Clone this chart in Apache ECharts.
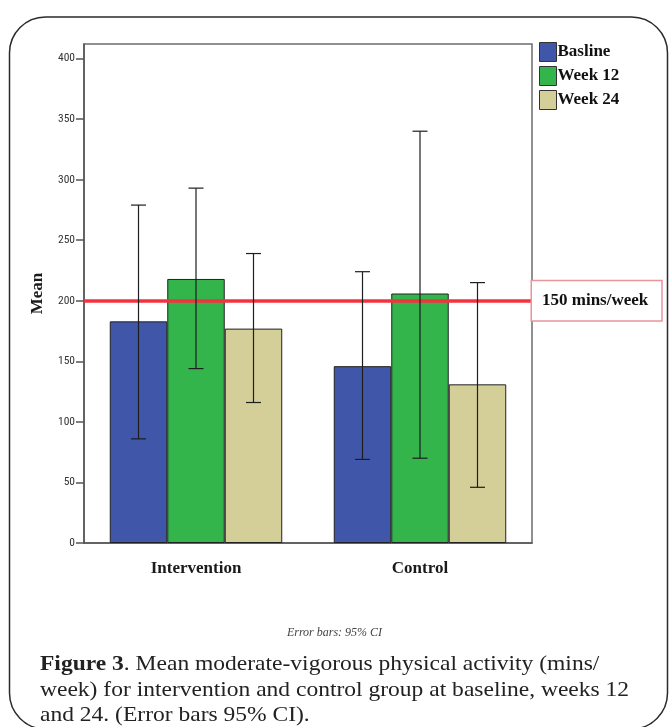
<!DOCTYPE html>
<html>
<head>
<meta charset="utf-8">
<script src="https://cdn.jsdelivr.net/npm/echarts@6/dist/echarts.min.js"></script>
<style>
  html, body { margin: 0; padding: 0; background: #fff; }
  #chart { width: 669px; height: 727px; }
</style>
</head>
<body>
<div id="chart"></div>
<script>
const categories = ['Intervention', 'Control'];
const seriesNames = ['Basline', 'Week 12', 'Week 24'];
const baseline = [183, 146];
const week12 = [218, 206];
const week24 = [177, 131];
// 95% CI [low, high] per category
const baselineCI = [[86, 279], [69, 224]];
const week12CI = [[144, 293], [70, 340]];
const week24CI = [[116, 239], [46, 215]];
const yTicks = [0, 50, 100, 150, 200, 250, 300, 350, 400];
const targetValue = 200;
const targetLabel = '150 mins/week';

const colors = ['#3f56a9', '#33b54b', '#d4cf99'];
const serif = '"Liberation Serif", "DejaVu Serif", serif';
const narrow = '"Liberation Sans Narrow", "Roboto Condensed", "Liberation Sans", sans-serif';
const catGap = 0.23;

const chart = echarts.init(document.getElementById('chart'));

function errorSeries(idx, ci) {
  return {
    type: 'custom',
    name: seriesNames[idx] + ' CI',
    silent: true,
    z: 5,
    data: ci.map((d, i) => [i, d[0], d[1]]),
    encode: { x: 0, y: [1, 2] },
    renderItem: function (params, api) {
      const band = api.size([1, 0])[0];
      const bw = band * (1 - catGap) / 3;
      const lo = api.coord([api.value(0), api.value(1)]);
      const hi = api.coord([api.value(0), api.value(2)]);
      const x = lo[0] + (idx - 1) * bw;
      const cap = 7.5;
      const style = { stroke: '#1e1e1e', lineWidth: 1.2 };
      return {
        type: 'group',
        children: [
          { type: 'line', shape: { x1: x, y1: lo[1], x2: x, y2: hi[1] }, style: style },
          { type: 'line', shape: { x1: x - cap, y1: hi[1], x2: x + cap, y2: hi[1] }, style: style },
          { type: 'line', shape: { x1: x - cap, y1: lo[1], x2: x + cap, y2: lo[1] }, style: style }
        ]
      };
    }
  };
}

const barValues = [baseline, week12, week24];
const bars = barValues.map((vals, i) => ({
  name: seriesNames[i],
  type: 'bar',
  data: vals,
  barGap: '0%',
  barCategoryGap: (catGap * 100) + '%',
  itemStyle: { color: colors[i], borderColor: '#222', borderWidth: 1 },
  z: 2
}));

bars[0].markLine = {
  symbol: 'none',
  silent: true,
  z: 4,
  data: [{ yAxis: targetValue }],
  lineStyle: { color: '#f2333f', width: 3.5, type: 'solid' },
  label: {
    show: true,
    position: 'end',
    distance: 0,
    formatter: targetLabel,
    fontFamily: serif,
    fontWeight: 'bold',
    fontSize: 17,
    color: '#111',
    backgroundColor: '#fff',
    borderColor: '#e9939a',
    borderWidth: 1.5,
    padding: [11, 13, 11, 10]
  }
};

chart.setOption({
  animation: false,
  grid: {
    left: 84, top: 44, width: 448, height: 499,
    show: true, borderColor: '#6c6c6c', borderWidth: 1.5, backgroundColor: 'transparent'
  },
  legend: {
    data: seriesNames,
    orient: 'vertical',
    left: 534,
    top: 37,
    itemWidth: 17,
    itemHeight: 19,
    itemGap: 4,
    icon: 'rect',
    itemStyle: { borderColor: '#333', borderWidth: 1 },
    textStyle: { fontFamily: serif, fontWeight: 'bold', fontSize: 17, color: '#111', padding: [0, 0, 0, -4] }
  },
  xAxis: {
    type: 'category',
    data: categories,
    axisLine: { lineStyle: { color: '#555', width: 1.5 } },
    axisTick: { alignWithLabel: true, length: 11, lineStyle: { color: '#555', width: 1.5 } },
    axisLabel: { margin: 17, fontFamily: serif, fontWeight: 'bold', fontSize: 17, color: '#1a1a1a' },
    splitLine: { show: false }
  },
  yAxis: {
    type: 'value',
    min: 0,
    max: 412,
    name: 'Mean',
    nameLocation: 'middle',
    nameGap: 38,
    nameTextStyle: { fontFamily: serif, fontWeight: 'bold', fontSize: 17, color: '#1a1a1a' },
    axisLine: { show: true, lineStyle: { color: '#555', width: 1.5 } },
    axisTick: { show: true, length: 8, customValues: yTicks, lineStyle: { color: '#555', width: 1.5 } },
    axisLabel: { customValues: yTicks, margin: 9, fontFamily: narrow, fontSize: 11.5, color: '#333' },
    splitLine: { show: false }
  },
  series: bars.concat([
    errorSeries(0, baselineCI),
    errorSeries(1, week12CI),
    errorSeries(2, week24CI)
  ]),
  graphic: [
    {
      type: 'rect',
      silent: true,
      shape: { x: 9.5, y: 17, width: 658, height: 712, r: 36 },
      style: { fill: 'none', stroke: '#2a2a2a', lineWidth: 1.5 }
    },
    {
      type: 'text',
      left: 'center',
      top: 627,
      style: {
        text: 'Error bars: 95% CI',
        fontFamily: serif,
        fontStyle: 'italic',
        fontSize: 12,
        fill: '#444'
      }
    },
    {
      type: 'text',
      x: 40,
      y: 652,
      scaleX: 1.12,
      style: {
        text: '{b|Figure 3}. Mean moderate-vigorous physical activity (mins/\nweek) for intervention and control group at baseline, weeks 12\nand 24. (Error bars 95% CI).',
        fontFamily: serif,
        fontSize: 21,
        lineHeight: 25.5,
        fill: '#222',
        rich: {
          b: { fontFamily: serif, fontSize: 21, fontWeight: 'bold', fill: '#222', lineHeight: 25.5 }
        }
      }
    }
  ]
});
</script>
</body>
</html>
